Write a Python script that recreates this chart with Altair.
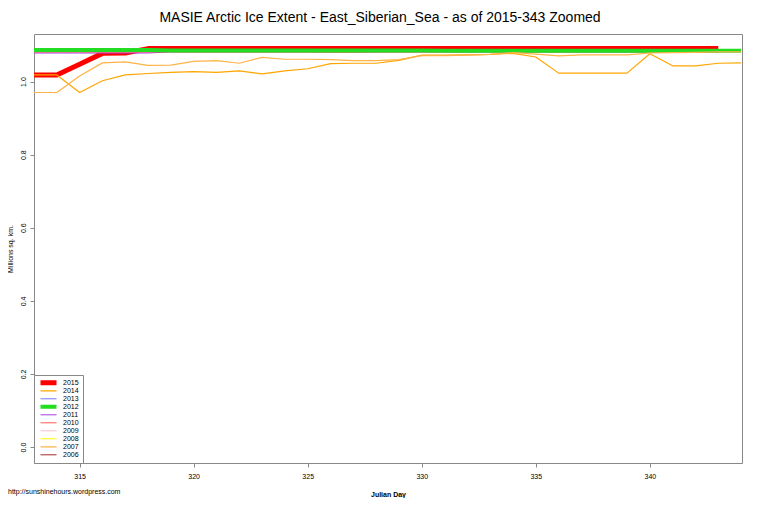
import altair as alt
import pandas as pd

TITLE = "MASIE Arctic Ice Extent - East_Siberian_Sea - as of 2015-343 Zoomed"
FOOTNOTE = "http://sunshinehours.wordpress.com"

YEARS = ["2015", "2014", "2013", "2012", "2011", "2010", "2009", "2008", "2007", "2006"]
COLORS = ["#ff0000", "#ffa500", "#7777ff", "#22dd22", "#a040e0",
          "#ff5a4a", "#ffc0cb", "#ffff00", "#ffb347", "#a52a2a"]
WIDTHS = [5, 1.2, 1, 4, 1, 1, 1, 1, 1.2, 1]

DAYS = [313, 314, 315, 316, 317, 318, 319, 320, 321, 322, 323, 324, 325, 326, 327, 328,
        329, 330, 331, 332, 333, 334, 335, 336, 337, 338, 339, 340, 341, 342, 343, 344]

# extent by year, million sq km (None = no data yet)
EXT_2015 = [1.018, 1.018, 1.047, 1.077, 1.078, 1.090, 1.090, 1.090, 1.090, 1.090, 1.090,
            1.090, 1.090, 1.090, 1.090, 1.090, 1.090, 1.090, 1.090, 1.090, 1.090, 1.090,
            1.090, 1.090, 1.090, 1.090, 1.090, 1.090, 1.090, 1.090, 1.090, None]
EXT_2014 = [1.018, 1.018, 0.970, 1.002, 1.018, 1.022, 1.025, 1.027, 1.025, 1.029, 1.021,
            1.029, 1.035, 1.049, 1.050, 1.050, 1.058, 1.072, 1.072, 1.073, 1.074, 1.077,
            1.067, 1.023, 1.023, 1.023, 1.023, 1.076, 1.043, 1.043, 1.050, 1.051]
EXT_2013 = [1.085, 1.085, 1.085, 1.085, 1.085, 1.085, 1.085, 1.085, 1.085, 1.085, 1.085,
            1.085, 1.085, 1.085, 1.085, 1.085, 1.085, 1.085, 1.085, 1.085, 1.085, 1.085,
            1.085, 1.085, 1.085, 1.085, 1.085, 1.085, 1.085, 1.085, 1.085, 1.085]
EXT_2012 = [1.086, 1.086, 1.086, 1.086, 1.086, 1.086, 1.085, 1.085, 1.085, 1.085, 1.085,
            1.085, 1.085, 1.085, 1.085, 1.085, 1.085, 1.085, 1.084, 1.084, 1.084, 1.084,
            1.084, 1.084, 1.084, 1.084, 1.084, 1.084, 1.084, 1.084, 1.084, 1.084]
EXT_2011 = [1.078, 1.078, 1.078, 1.078, 1.078, 1.078, 1.081, 1.081, 1.081, 1.081, 1.081,
            1.081, 1.081, 1.081, 1.081, 1.081, 1.081, 1.081, 1.081, 1.081, 1.081, 1.081,
            1.081, 1.081, 1.081, 1.081, 1.081, 1.081, 1.081, 1.081, 1.081, None]
EXT_2010 = [1.081, 1.081, 1.081, 1.081, 1.081, 1.081, 1.081, 1.081, 1.081, 1.081, 1.081,
            1.081, 1.081, 1.080, 1.080, 1.081, 1.081, 1.081, 1.081, 1.081, 1.081, 1.081,
            1.081, 1.081, 1.081, 1.081, 1.081, 1.081, 1.081, 1.081, 1.081, None]
EXT_2009 = [1.080, 1.080, 1.080, 1.080, 1.080, 1.080, 1.081, 1.081, 1.081, 1.081, 1.081,
            1.081, 1.081, 1.081, 1.081, 1.081, 1.081, 1.081, 1.081, 1.081, 1.081, 1.081,
            1.081, 1.081, 1.081, 1.081, 1.081, 1.081, 1.081, 1.081, 1.081, None]
EXT_2008 = [1.089, 1.089, 1.088, 1.087, 1.086, 1.085, 1.085, 1.085, 1.085, 1.085, 1.085,
            1.085, 1.085, 1.085, 1.085, 1.085, 1.085, 1.085, 1.085, 1.085, 1.085, 1.085,
            1.085, 1.085, 1.085, 1.085, 1.085, 1.085, 1.085, 1.085, 1.085, 1.085]
EXT_2007 = [0.970, 0.970, 1.015, 1.051, 1.054, 1.044, 1.045, 1.055, 1.057, 1.050, 1.066,
            1.061, 1.061, 1.060, 1.057, 1.057, 1.060, 1.071, 1.071, 1.072, 1.074, 1.079,
            1.075, 1.070, 1.073, 1.073, 1.073, 1.078, 1.079, 1.080, 1.081, 1.081]
EXT_2006 = [1.082, 1.082, 1.082, 1.082, 1.082, 1.082, 1.082, 1.082, 1.082, 1.082, 1.082,
            1.082, 1.082, 1.082, 1.082, 1.082, 1.082, 1.082, 1.082, 1.082, 1.082, 1.082,
            1.082, 1.082, 1.082, 1.082, 1.082, 1.082, 1.082, 1.082, 1.082, None]

series = {"2015": EXT_2015, "2014": EXT_2014, "2013": EXT_2013, "2012": EXT_2012,
          "2011": EXT_2011, "2010": EXT_2010, "2009": EXT_2009, "2008": EXT_2008,
          "2007": EXT_2007, "2006": EXT_2006}

# drawing order, bottom to top
DRAW_ORDER = ["2015", "2013", "2006", "2009", "2011", "2010", "2008", "2012", "2014", "2007"]

rows = []
for yr in DRAW_ORDER:
    for d, v in zip(DAYS, series[yr]):
        if v is not None:
            rows.append({"year": yr, "day": d, "extent": v})
df = pd.DataFrame(rows)

FONT = "Liberation Sans"

lines = (
    alt.Chart(df)
    .mark_line(clip=True, strokeJoin="round")
    .encode(
        alt.X("day:Q", scale=alt.Scale(domain=[313, 344.04], nice=False, zero=False))
        .axis(values=[315, 320, 325, 330, 335, 340], format="d", grid=False)
        .title("Julian Day"),
        alt.Y("extent:Q", scale=alt.Scale(domain=[-0.0435, 1.13], nice=False, zero=False))
        .axis(values=[0.0, 0.2, 0.4, 0.6, 0.8, 1.0], format=".1f", grid=False, labelAngle=-90)
        .title("Millions sq. km."),
        alt.Color("year:N", scale=alt.Scale(domain=YEARS, range=COLORS)).title(None),
        alt.StrokeWidth("year:N", scale=alt.Scale(type="ordinal", domain=YEARS, range=WIDTHS))
        .title(None),
        detail="year:N",
    )
)

foot = (
    alt.Chart(pd.DataFrame({"t": [FOOTNOTE]}))
    .mark_text(align="left", baseline="middle", font=FONT, fontSize=7, color="black")
    .encode(x=alt.value(-26), y=alt.value(458), text="t:N")
)

chart = (
    alt.layer(lines, foot)
    .properties(
        width=708,
        height=429,
        autosize=alt.AutoSizeParams(type="none"),
        padding={"left": 26, "top": 26, "right": 10, "bottom": 35},
        title=alt.Title(TITLE, font=FONT, fontSize=14, fontWeight="normal",
                        color="black", offset=9, dx=-8),
    )
    .configure_view(stroke="#888888", strokeWidth=1)
    .configure_axis(
        domain=False,
        tickColor="#888888",
        tickSize=4,
        labelFont=FONT,
        labelFontSize=7,
        labelColor="black",
        titleFont=FONT,
        titleFontSize=7,
        titleColor="black",
    )
    .configure_axisX(labelPadding=5, titlePadding=11, titleFontWeight="bold")
    .configure_axisY(labelPadding=4, titlePadding=6, titleFontWeight="normal")
    .configure_legend(
        orient="bottom-left",
        offset=0,
        padding=4,
        strokeColor="#888888",
        fillColor="white",
        symbolType="stroke",
        symbolSize=256,
        clipHeight=7.6,
        labelFont=FONT,
        labelFontSize=7,
        labelColor="black",
        labelOffset=4,
        rowPadding=-1.4,
    )
)

chart.save("out.html", embed_options={"renderer": "svg", "actions": False})
